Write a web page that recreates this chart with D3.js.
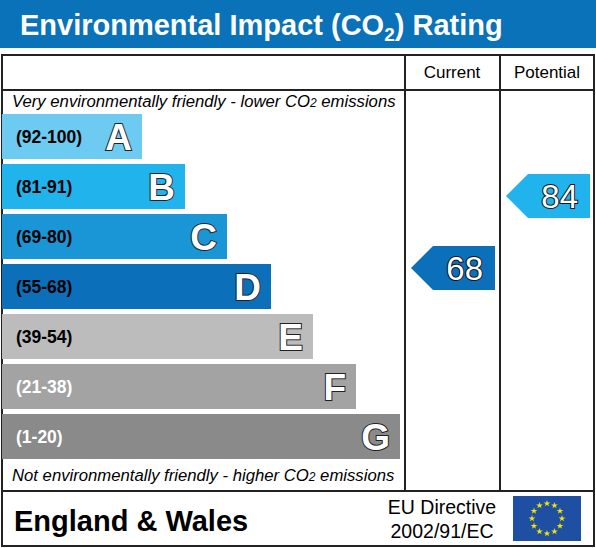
<!DOCTYPE html>
<html><head><meta charset="utf-8">
<script src="https://cdn.jsdelivr.net/npm/d3@7"></script>
<style>body{margin:0;background:#fff}svg{display:block;font-family:"Liberation Sans",Arial,sans-serif}</style>
</head><body>
<svg id="chart" width="596" height="548"></svg>
<script>
// bands, top to bottom
var letters = ["A", "B", "C", "D", "E", "F", "G"];
var ranges = ["(92-100)", "(81-91)", "(69-80)", "(55-68)", "(39-54)", "(21-38)", "(1-20)"];
var barEnds = [140, 183, 225, 269, 311, 354, 398];
var colors = ["#6dcaf0", "#20b3ec", "#1a96d6", "#0b70b9", "#bcbcbc", "#a3a3a3", "#8a8a8a"];
var rangeText = ["#000", "#000", "#000", "#000", "#000", "#fff", "#fff"];
var current = 68, potential = 84;

var svg = d3.select("#chart");

svg.append("rect").attr("x", 0).attr("y", 0).attr("width", 596).attr("height", 48).attr("fill", "#0a72b8");
var t = svg.append("text").attr("x", 20).attr("y", 35).attr("fill", "#fff")
    .attr("font-size", 29).attr("font-weight", "bold");
t.append("tspan").text("Environmental Impact (CO");
t.append("tspan").attr("font-size", 19).attr("dy", 6).text("2");
t.append("tspan").attr("dy", -6).text(") Rating");

// frame
var g = svg.append("g").attr("fill", "none").attr("stroke", "#222").attr("stroke-width", 2);
g.append("rect").attr("x", 2).attr("y", 55).attr("width", 592).attr("height", 491);
g.append("line").attr("x1", 2).attr("x2", 594).attr("y1", 90).attr("y2", 90);
g.append("line").attr("x1", 2).attr("x2", 594).attr("y1", 491).attr("y2", 491);
g.append("line").attr("x1", 405).attr("x2", 405).attr("y1", 55).attr("y2", 491);
g.append("line").attr("x1", 500).attr("x2", 500).attr("y1", 55).attr("y2", 491);

svg.append("text").attr("x", 452).attr("y", 78).attr("text-anchor", "middle").attr("font-size", 17).text("Current");
svg.append("text").attr("x", 547).attr("y", 78).attr("text-anchor", "middle").attr("font-size", 17).text("Potential");

function note(y, a, b) {
    var n = svg.append("text").attr("x", 12).attr("y", y).attr("font-size", 16.7).attr("font-style", "italic");
    n.append("tspan").text(a);
    n.append("tspan").attr("font-size", 12).text("2");
    n.append("tspan").text(b);
}
note(107, "Very environmentally friendly - lower CO", " emissions");
note(481, "Not environmentally friendly - higher CO", " emissions");

var y = d3.scaleBand().domain(letters).range([114, 459]).paddingInner(0.1).paddingOuter(0);
var x = d3.scaleLinear().domain([0, 400]).range([2, 402]);

var bands = svg.selectAll("g.band").data(letters).enter().append("g");
bands.append("rect").attr("x", x(0)).attr("y", function(d) { return y(d); })
    .attr("width", function(d, i) { return x(barEnds[i]) - x(0); })
    .attr("height", y.bandwidth()).attr("fill", function(d, i) { return colors[i]; });
bands.append("text").attr("x", 16).attr("y", function(d) { return y(d) + y.bandwidth() / 2 + 6; })
    .attr("font-size", 17.5).attr("font-weight", "bold")
    .attr("fill", function(d, i) { return rangeText[i]; }).text(function(d, i) { return ranges[i]; });
bands.append("text").attr("x", function(d, i) { return x(barEnds[i]) - 10; })
    .attr("y", function(d) { return y(d) + y.bandwidth() / 2 + 13; })
    .attr("text-anchor", "end").attr("font-size", 37).attr("font-weight", "bold")
    .attr("fill", "#fff").attr("stroke", "#222").attr("stroke-width", 2).attr("paint-order", "stroke")
    .text(function(d) { return d; });

// rating arrows
var ry = d3.scaleLinear().domain([84, 68]).range([196, 268]);
function band(v) { return letters[ranges.findIndex(function(r) { var p = r.slice(1, -1).split("-"); return v >= +p[0] && v <= +p[1]; })]; }
function arrow(v, left, right) {
    var c = colors[letters.indexOf(band(v))], cy = ry(v), h = 22;
    svg.append("path").attr("fill", c)
        .attr("d", d3.line()([[left, cy], [left + 22, cy - h], [right, cy - h], [right, cy + h], [left + 22, cy + h]]));
    svg.append("text").attr("x", right - 12).attr("y", cy + 12).attr("text-anchor", "end")
        .attr("font-size", 33).attr("fill", "#fff").attr("stroke", "#111").attr("stroke-width", 2)
        .attr("paint-order", "stroke").text(v);
}
arrow(current, 411, 495);
arrow(potential, 506, 590);

// footer
svg.append("text").attr("x", 14).attr("y", 531).attr("font-size", 29).attr("font-weight", "bold").text("England & Wales");
svg.append("text").attr("x", 442).attr("y", 514).attr("text-anchor", "middle").attr("font-size", 19.5).text("EU Directive");
svg.append("text").attr("x", 442).attr("y", 538).attr("text-anchor", "middle").attr("font-size", 19.5).text("2002/91/EC");
svg.append("rect").attr("x", 513).attr("y", 496).attr("width", 68).attr("height", 45).attr("fill", "#1f4fa3");
var stars = d3.range(12).map(function(i) { var a = i * Math.PI / 6; return [547 + 15 * Math.sin(a), 518.5 - 15 * Math.cos(a)]; });
svg.selectAll("path.star").data(stars).enter().append("path")
    .attr("d", d3.symbol(d3.symbolStar, 14)).attr("fill", "#f5e400")
    .attr("transform", function(d) { return "translate(" + d + ")"; });
</script>
</body></html>
